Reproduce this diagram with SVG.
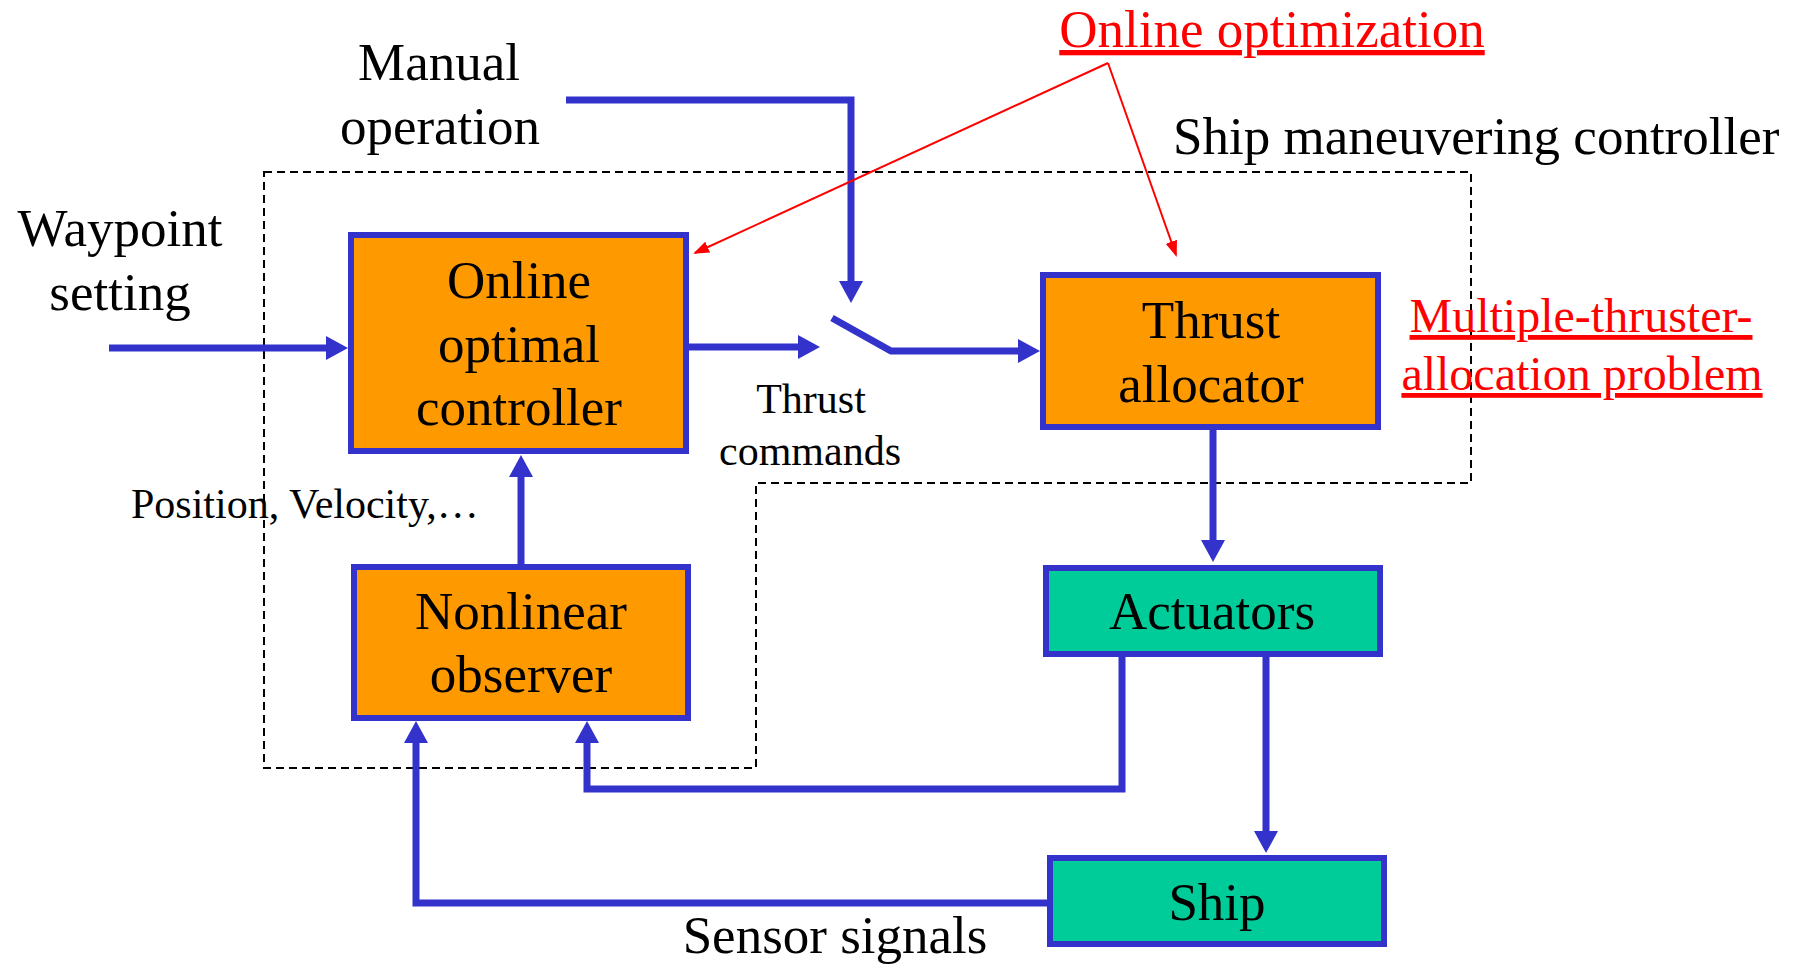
<svg xmlns="http://www.w3.org/2000/svg" width="1803" height="966" viewBox="0 0 1803 966">
<style>
text{font-family:"Liberation Serif","Times New Roman",serif;fill:#000;}
.big{font-size:53px;text-anchor:middle;}
.mid{font-size:42px;}
.red{fill:#FF0000;text-decoration:underline;}
.orange{fill:#FF9900;stroke:#3333CC;stroke-width:6;}
.green{fill:#00CC99;stroke:#3333CC;stroke-width:6;}
.conn{fill:none;stroke:#3333CC;stroke-width:7;marker-end:url(#ab);}
.rconn{fill:none;stroke:#FF0000;stroke-width:2;marker-end:url(#ar);}
</style>
<defs>
<marker id="ab" markerUnits="userSpaceOnUse" markerWidth="24" markerHeight="26" refX="14" refY="12" orient="auto" viewBox="0 0 24 26">
<path d="M0,0 L22,12 L0,24 Z" fill="#3333CC"/>
</marker>
<marker id="ar" markerUnits="userSpaceOnUse" markerWidth="18" markerHeight="14" refX="14" refY="6" orient="auto" viewBox="0 0 18 14">
<path d="M0,0 L16,6 L0,12 Z" fill="#FF0000"/>
</marker>
</defs>
<g id="boundary">
<path d="M264,172 H1471 V483 H756 V768 H264 Z" fill="none" stroke="#000" stroke-width="2" stroke-dasharray="8,5"/>
</g>
<g id="connectors">
<path class="conn" d="M109,348 H340"/>
<path class="conn" d="M566,100 H851 V295"/>
<path class="conn" d="M689,347 H812"/>
<path class="conn" d="M832,318 L891,351 H1032"/>
<path class="conn" d="M1213,430 V554"/>
<path class="conn" d="M1266,657 V845"/>
<path class="conn" d="M1122,657 V789 H587 V729"/>
<path class="conn" d="M1047,903 H416 V729"/>
<path class="conn" d="M521,564 V463"/>
<path class="rconn" d="M1108,63 L695,253"/>
<path class="rconn" d="M1108,63 L1176,255"/>
</g>
<g id="controller">
<rect class="orange" x="351" y="235" width="335" height="216"/>
<text class="big" x="519" y="298">Online</text>
<text class="big" x="519" y="362">optimal</text>
<text class="big" x="519" y="425">controller</text>
</g>
<g id="allocator">
<rect class="orange" x="1043" y="275" width="335" height="152"/>
<text class="big" x="1211" y="338">Thrust</text>
<text class="big" x="1211" y="402">allocator</text>
</g>
<g id="observer">
<rect class="orange" x="354" y="567" width="334" height="151"/>
<text class="big" x="521" y="629">Nonlinear</text>
<text class="big" x="521" y="692">observer</text>
</g>
<g id="actuators">
<rect class="green" x="1046" y="568" width="334" height="86"/>
<text class="big" x="1212" y="629">Actuators</text>
</g>
<g id="ship">
<rect class="green" x="1050" y="858" width="334" height="86"/>
<text class="big" x="1217" y="920">Ship</text>
</g>
<g id="labels">
<text class="big" x="439" y="80">Manual</text>
<text class="big" x="440" y="144">operation</text>
<text class="big" x="120" y="246">Waypoint</text>
<text class="big" x="120" y="310">setting</text>
<text class="mid" x="811" y="413" text-anchor="middle">Thrust</text>
<text class="mid" x="810" y="465" text-anchor="middle">commands</text>
<text class="mid" x="131" y="518">Position, Velocity,…</text>
<text class="big" x="835" y="953">Sensor signals</text>
<text style="font-size:53px" x="1173" y="154">Ship maneuvering controller</text>
<text class="big red" x="1272" y="47">Online optimization</text>
<text class="red" style="font-size:48px" x="1581" y="332" text-anchor="middle">Multiple-thruster-</text>
<text class="red" style="font-size:48px" x="1582" y="390" text-anchor="middle">allocation problem</text>
</g>
</svg>
